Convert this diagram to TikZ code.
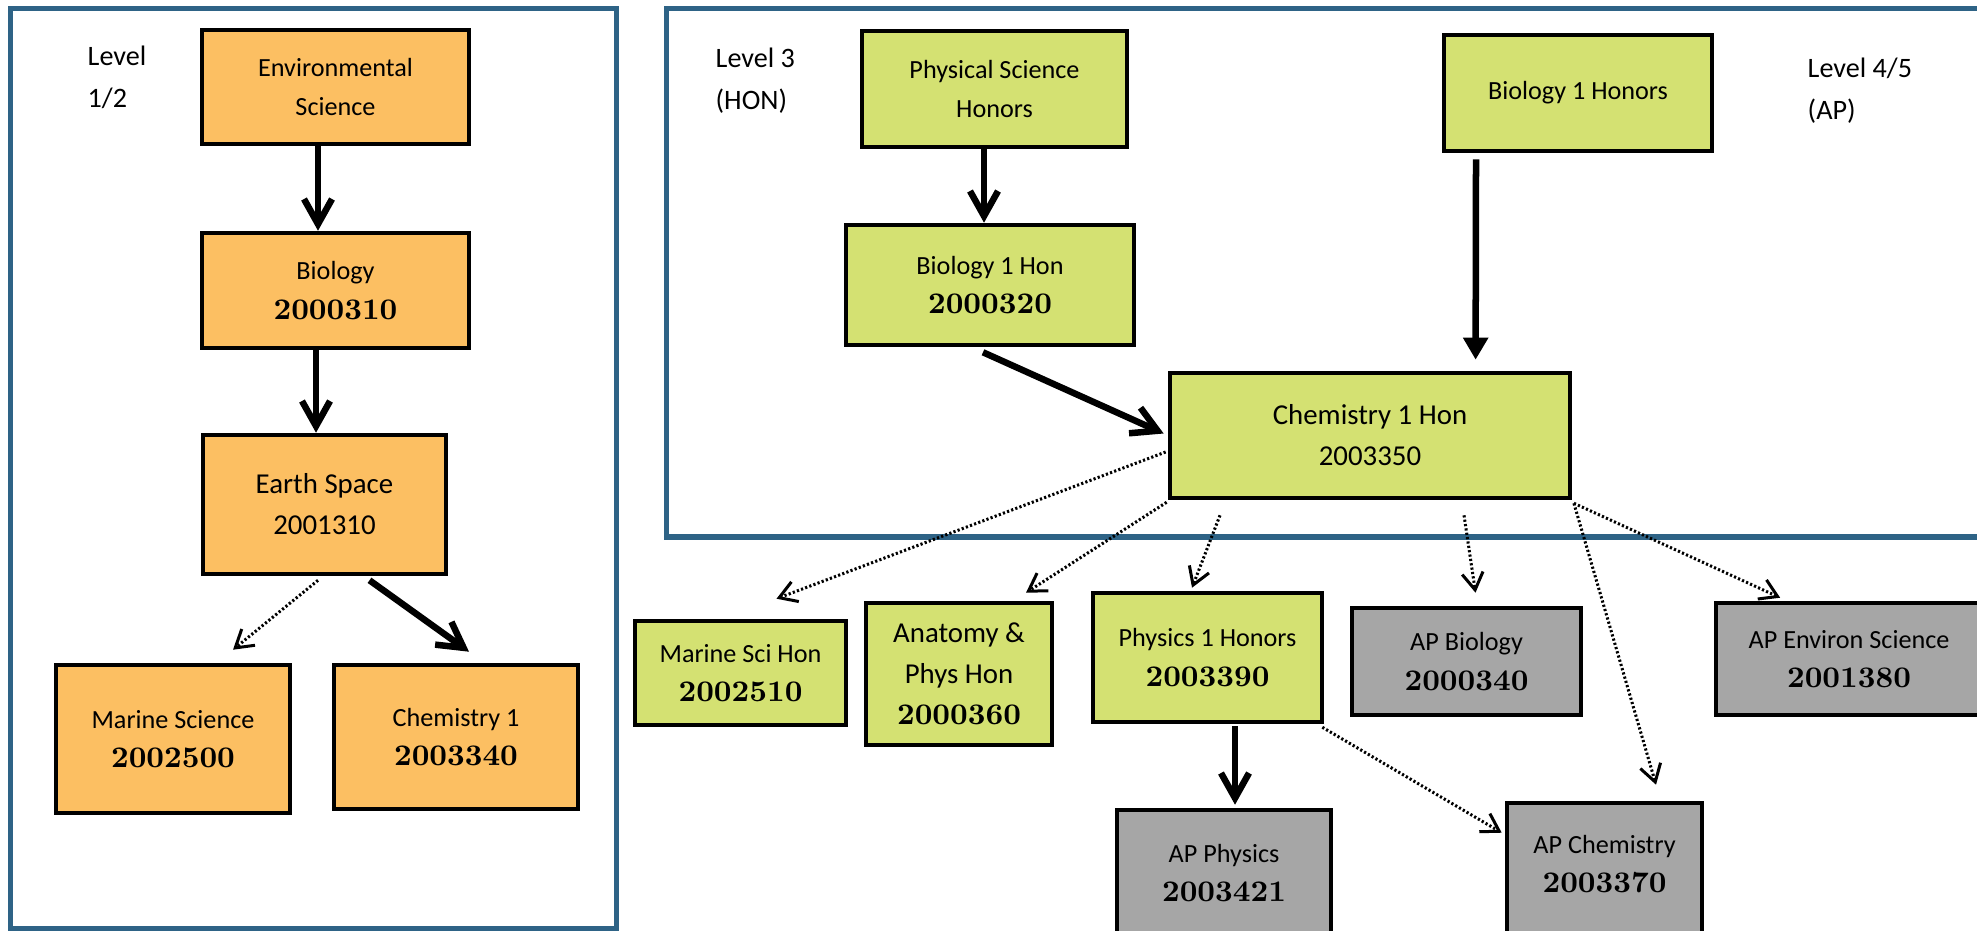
\documentclass[tikz,border=0pt]{standalone}
\usepackage{fontspec}
\newfontfamily\calibri{Carlito}
\usepackage{tikz}
\usetikzlibrary{arrows.meta}
\usetikzlibrary{calc}

\definecolor{boxorange}{RGB}{252,191,98}
\definecolor{boxgreen}{RGB}{212,225,114}
\definecolor{boxgrey}{RGB}{166,166,166}
\definecolor{frameblue}{RGB}{46,99,134}

% course number
\newcommand{\crs}[1]{{\rmfamily\bfseries\fontsize{8.5}{11.2}\selectfont #1}}

\begin{document}
\begin{tikzpicture}[x=0.01cm,y=-0.01cm]
\tikzstyle{box} = [rectangle, draw=black, line width=0.045cm, inner sep=0pt,
align=center, font=\calibri\fontsize{7.45}{11.2}\selectfont]
\tikzstyle{lvlone} = [box, fill=boxorange]
\tikzstyle{lvlthree} = [box, fill=boxgreen]
\tikzstyle{lvlfour} = [box, fill=boxgrey]
\tikzstyle{big} = [font=\calibri\fontsize{8.2}{11.7}\selectfont]
\tikzstyle{levellabel} = [anchor=north west, inner sep=0pt, align=left,
font=\calibri\fontsize{8}{11.95}\selectfont]
\tikzstyle{frame} = [draw=frameblue, line width=0.05cm]
\tikzstyle{thickline} = [line width=0.065cm, -{Straight Barb[length=0.25cm,width=0.28cm]}]
\tikzstyle{fillline} = [line width=0.065cm, -{Triangle[length=0.22cm,width=0.24cm]}]
\tikzstyle{dotline} = [line width=0.03cm, dash pattern=on 0.022cm off 0.022cm,
-{Straight Barb[length=0.17cm,width=0.21cm]}]
\useasboundingbox (0,0) rectangle (1977,931);

% the two panels
\draw[frame] (10.5,9) rectangle (616,928);
\draw[frame] (666,9) rectangle (2010,537);

% level 1/2
\node [levellabel] (lvla) at (87,45) {Level\\1/2};
\node [lvlone, minimum width=2.67cm, minimum height=1.14cm] (envsci) at (335.5,87) {Environmental\\Science};
\node [lvlone, minimum width=2.67cm, minimum height=1.15cm] (bio) at (335.5,290.5) {Biology\\\crs{2000310}};
\node [lvlone, big, minimum width=2.43cm, minimum height=1.39cm] (earth) at (324.5,504.5) {Earth Space\\2001310};
\node [lvlone, minimum width=2.34cm, minimum height=1.48cm] (marine) at (173,739) {Marine Science\\\crs{2002500}};
\node [lvlone, minimum width=2.44cm, minimum height=1.44cm] (chemone) at (456,737) {Chemistry 1\\\crs{2003340}};

% level 3
\node [levellabel] (lvlb) at (715,47) {Level 3\\(HON)};
\node [lvlthree, minimum width=2.65cm, minimum height=1.16cm] (physhon) at (994.5,89) {Physical Science\\Honors};
\node [lvlthree, minimum width=2.88cm, minimum height=1.20cm] (biohon) at (990,285) {Biology 1 Hon\\\crs{2000320}};
\node [lvlthree, minimum width=2.68cm, minimum height=1.16cm] (biohonors) at (1578,93) {Biology 1 Honors};
\node [lvlthree, big, minimum width=4.00cm, minimum height=1.25cm] (chemhon) at (1370,435.5) {Chemistry 1 Hon\\2003350};
\node [lvlthree, minimum width=2.11cm, minimum height=1.04cm] (marsci) at (740.5,673) {Marine Sci Hon\\\crs{2002510}};
\node [lvlthree, big, minimum width=1.86cm, minimum height=1.42cm] (anat) at (959,674) {Anatomy \&\\Phys Hon\\\crs{2000360}};
\node [lvlthree, minimum width=2.29cm, minimum height=1.29cm] (physone) at (1207.5,657.5) {Physics 1 Honors\\\crs{2003390}};

% level 4/5
\node [levellabel] (lvlc) at (1807,57) {Level 4/5\\(AP)};
\node [lvlfour, minimum width=2.29cm, minimum height=1.07cm] (apbio) at (1466.5,661.5) {AP Biology\\\crs{2000340}};
\node [lvlfour, minimum width=2.66cm, minimum height=1.12cm] (apenv) at (1849,659) {AP Environ Science\\\crs{2001380}};
\node [lvlfour, minimum width=2.14cm, minimum height=1.26cm] (apphys) at (1224,873) {AP Physics\\\crs{2003421}};
\node [lvlfour, text depth=0.18cm, minimum width=1.95cm, minimum height=1.40cm] (apchem) at (1604.5,873) {AP Chemistry\\\crs{2003370}};

% connectors
\draw[thickline] ($(envsci.south)+(-17.5,0)$) -- ($(bio.north)+(-17.5,0)$);
\draw[thickline] ($(bio.south)+(-19.5,0)$) -- ($(earth.north)+(-8.5,0)$);
\draw[thickline] ($(earth.south)+(45,4)$) -- ($(chemone.north)+(13,-11)$);
\draw[dotline] ($(earth.south)+(-6.5,4)$) -- ($(marine.north)+(60,-13)$);
\draw[thickline] ($(physhon.south)+(-10.5,0)$) -- ($(biohon.north)+(-6,0)$);
\draw[thickline] ($(biohon.south)+(-7,5)$) -- ($(chemhon.west)+(-4,-2)$);
\draw[fillline] ($(biohonors.south)+(-102,6)$) -- ($(chemhon.north)+(105.6,-11)$);
\draw[dotline] ($(chemhon.west)+(-2,16.5)$) -- ($(marsci.north)+(36,-20)$);
\draw[dotline] ($(chemhon.south west)+(-1,2)$) -- ($(anat.north)+(67,-8)$);
\draw[dotline] ($(chemhon.south)+(-150,15)$) -- ($(physone.north)+(-15.5,-3)$);
\draw[dotline] ($(chemhon.south)+(94,15)$) -- ($(apbio.north)+(9,-13)$);
\draw[dotline] ($(chemhon.south east)+(1.5,3)$) -- ($(apchem.north)+(51.5,-16)$);
\draw[dotline] ($(chemhon.south east)+(1.5,3)$) -- ($(apenv.north west)+(66.5,-3)$);
\draw[thickline] ($(physone.south)+(27.5,2)$) -- ($(apphys.north)+(11,-3)$);
\draw[dotline] ($(physone.south east)+(-2,3)$) -- ($(apchem.north west)+(-3,32)$);
\end{tikzpicture}
\end{document}
